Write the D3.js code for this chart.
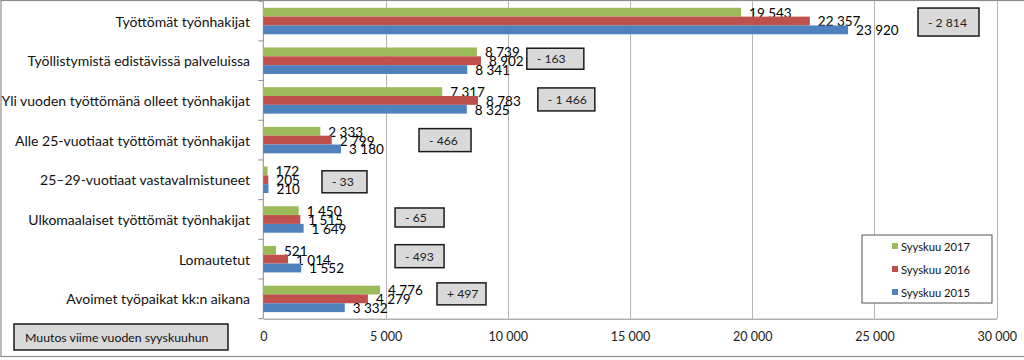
<!DOCTYPE html>
<html><head><meta charset="utf-8">
<script src="https://cdn.jsdelivr.net/npm/d3@7"></script>
<style>
body{margin:0;background:#fff}
svg{display:block}
text{font-family:Lato,'Open Sans',sans-serif}
</style>
</head><body>
<svg id="c" width="1024" height="360"></svg>
<script>
// ---- data ----
const categories = [
  "Työttömät työnhakijat",
  "Työllistymistä edistävissä palveluissa",
  "Yli vuoden työttömänä olleet työnhakijat",
  "Alle 25-vuotiaat työttömät työnhakijat",
  "25–29-vuotiaat vastavalmistuneet",
  "Ulkomaalaiset työttömät työnhakijat",
  "Lomautetut",
  "Avoimet työpaikat kk:n aikana"
];
const seriesNames = ["Syyskuu 2017", "Syyskuu 2016", "Syyskuu 2015"];
const values2017 = [19543, 8739, 7317, 2333, 172, 1450, 521, 4776];
const values2016 = [22357, 8902, 8783, 2799, 205, 1515, 1014, 4279];
const values2015 = [23920, 8341, 8325, 3180, 210, 1649, 1552, 3332];
const xTicks = [0, 5000, 10000, 15000, 20000, 25000, 30000];
const changeNote = "Muutos viime vuoden syyskuuhun";

// ---- layout / style (not data) ----
const colors = ["#9BBB59", "#C0504D", "#4F81BD"];
// annotation box placement: left edge in axis units, width px, height px, vertical offset px
const boxLayout = [
  [26780, 61, 28, 1], [10780, 57, 21, -2], [11230, 57, 23, -1], [6370, 52, 23, 0],
  [2400, 45, 22, 2], [5390, 49, 19, -2], [5390, 49, 23, -3], [7105, 49, 22, -5]
];

const series = [values2017, values2016, values2015];
const svg = d3.select("#c");
const x = d3.scaleLinear().domain([0, 30000]).range([263.3, 996.7]);
const y = d3.scaleBand().domain(categories).range([1.2, 318.7]).paddingInner(0.333).paddingOuter(0.1665);
const sub = d3.scaleBand().domain(seriesNames).range([0, y.bandwidth()]);
const fmt = v => d3.format(",")(v).replace(/,/g, "\u00a0");
const plotTop = y.range()[0], plotBottom = y.range()[1];

// outer frame
svg.append("rect").attr("x", 1).attr("y", 0.5).attr("width", 1040).attr("height", 356)
  .attr("fill", "none").attr("stroke", "#8c8c8c").attr("stroke-width", 1.2);

// gridlines
svg.append("g").selectAll("line").data(xTicks.filter(d => d > 0)).join("line")
  .attr("x1", d => Math.round(x(d)) + 0.5).attr("x2", d => Math.round(x(d)) + 0.5)
  .attr("y1", plotTop).attr("y2", plotBottom)
  .attr("stroke", "#b4b4b4").attr("stroke-width", 1);

// x axis
const xAxis = svg.append("g").attr("transform", `translate(0,${plotBottom})`)
  .call(d3.axisBottom(x).tickValues(xTicks).tickFormat(fmt).tickSize(0).tickPadding(13));
xAxis.select(".domain").attr("stroke", "#8c8c8c");
xAxis.selectAll("text").attr("font-size", 12.5).attr("fill", "#222").attr("font-family", "Lato,sans-serif");

// y axis line + ticks at category boundaries
const yg = svg.append("g");
yg.append("line").attr("x1", x(0)).attr("x2", x(0)).attr("y1", plotTop).attr("y2", plotBottom)
  .attr("stroke", "#8c8c8c");
const bounds = d3.range(categories.length + 1).map(i => plotTop + i * y.step());
yg.selectAll("line.t").data(bounds).join("line").attr("class", "t")
  .attr("x1", x(0) - 5).attr("x2", x(0)).attr("y1", d => d).attr("y2", d => d)
  .attr("stroke", "#8c8c8c");
yg.selectAll("text").data(categories).join("text")
  .attr("x", 250).attr("y", d => y(d) + y.bandwidth() / 2)
  .attr("text-anchor", "end").attr("dominant-baseline", "central")
  .attr("font-size", 14).attr("fill", "#111").text(d => d);

// bars
series.forEach((vals, si) => {
  const g = svg.append("g");
  g.selectAll("rect").data(vals).join("rect")
    .attr("x", x(0)).attr("y", (d, i) => y(categories[i]) + sub(seriesNames[si]))
    .attr("width", d => x(d) - x(0)).attr("height", sub.bandwidth())
    .attr("fill", colors[si]);
  g.selectAll("text").data(vals).join("text")
    .attr("x", d => x(d) + 8)
    .attr("y", (d, i) => y(categories[i]) + sub(seriesNames[si]) + sub.bandwidth() + 1)
    .attr("font-size", 13.5).attr("fill", "#000").text(d => fmt(d));
});

// change boxes
const changes = values2017.map((v, i) => v - values2016[i]);
const bg = svg.append("g");
changes.forEach((c, i) => {
  const [bx, bw, bh, dy] = boxLayout[i];
  const cy = y(categories[i]) + y.bandwidth() / 2 + dy;
  bg.append("rect").attr("x", x(bx)).attr("y", cy - bh / 2).attr("width", bw).attr("height", bh)
    .attr("fill", "#d9d9d9").attr("stroke", "#1a1a1a").attr("stroke-width", 1.5);
  bg.append("text").attr("x", x(bx) + 10).attr("y", cy).attr("dominant-baseline", "central")
    .attr("font-size", 12.2).attr("fill", "#222")
    .text((c < 0 ? "- " : "+ ") + fmt(Math.abs(c)));
});

// note box
svg.append("rect").attr("x", 14).attr("y", 324).attr("width", 214).attr("height", 26)
  .attr("fill", "#d9d9d9").attr("stroke", "#1a1a1a").attr("stroke-width", 1.5);
svg.append("text").attr("x", 25).attr("y", 337).attr("dominant-baseline", "central")
  .attr("font-size", 12.3).attr("fill", "#111").text(changeNote);

// legend
const lg = svg.append("g");
lg.append("rect").attr("x", 862).attr("y", 235).attr("width", 130).attr("height", 68)
  .attr("fill", "#fff").attr("stroke", "#555");
seriesNames.forEach((s, i) => {
  const ly = 246 + i * 23;
  lg.append("rect").attr("x", 892).attr("y", ly - 3).attr("width", 6).attr("height", 6).attr("fill", colors[i]);
  lg.append("text").attr("x", 901).attr("y", ly).attr("dominant-baseline", "central")
    .attr("font-size", 11.2).attr("fill", "#111").text(s);
});
</script>
</body></html>
